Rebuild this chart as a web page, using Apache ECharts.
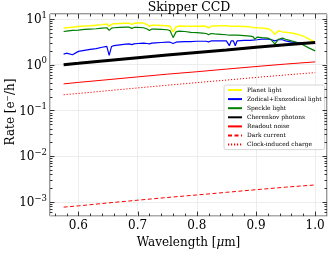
<!DOCTYPE html>
<html>
<head>
<meta charset="utf-8">
<script src="https://cdn.jsdelivr.net/npm/echarts@6/dist/echarts.min.js"></script>
<style>html,body{margin:0;padding:0;background:#fff}#c{width:330px;height:254px}</style>
</head>
<body>
<div id="c"></div>
<script>
// ---------- data ----------
const specWl = [0.575,0.58,0.59,0.60,0.61,0.62,0.63,0.64,0.648,0.652,
  0.656,0.66,0.67,0.68,0.686,0.69,0.694,0.70,0.71,0.716,
  0.72,0.724,0.73,0.74,0.75,0.755,0.76,0.765,0.77,0.78,
  0.79,0.80,0.81,0.816,0.82,0.824,0.83,0.84,0.85,0.852,
  0.855,0.858,0.862,0.865,0.868,0.87,0.88,0.89,0.895,0.898,
  0.902,0.91,0.92,0.926,0.932,0.938,0.945,0.95,0.96,0.97,
  0.98,0.99,1.0];
const planetLight = [6.3,6.4,6.6,6.8,7.0,7.1,7.3,7.5,7.7,6.9,
  7.6,7.8,7.9,8.0,8.0,7.6,8.0,8.1,8.1,7.5,
  6.9,7.3,7.3,7.2,7.1,6.9,5.2,6.7,7.0,6.9,
  6.9,6.9,7.0,6.9,6.4,6.9,7.0,7.1,7.1,7.0,
  6.9,7.0,6.9,6.8,6.9,6.9,6.8,6.7,6.5,5.9,
  6.4,6.3,6.1,5.6,4.6,5.5,5.2,5.1,4.9,4.6,
  4.2,3.6,3.05];
const zodiLight = [1.70,1.78,1.65,1.95,2.05,2.15,2.25,2.4,2.5,1.6,
  2.5,2.6,2.7,2.8,2.85,2.75,2.85,2.9,2.95,2.9,
  2.85,2.95,3.0,3.05,3.1,3.1,2.9,3.1,3.15,3.2,
  3.2,3.25,3.25,3.25,3.15,3.3,3.3,3.3,3.3,3.3,
  2.6,3.3,3.3,2.6,3.3,3.35,3.4,3.4,3.45,3.3,
  3.5,3.6,3.6,3.5,3.3,3.5,3.5,3.3,3.1,3.05,
  3.0,2.95,2.9];
const speckleLight = [5.3,5.4,5.6,5.7,5.9,6.0,6.1,6.3,6.4,5.6,
  6.3,6.4,6.5,6.6,6.6,6.2,6.5,6.5,6.4,6.0,
  5.6,6.0,6.0,5.9,5.8,5.5,3.9,5.2,5.4,5.3,
  5.1,5.0,4.9,4.8,4.5,4.8,4.7,4.6,4.5,4.5,
  4.4,4.5,4.4,4.3,4.4,4.4,4.3,4.2,4.1,3.6,
  4.0,3.9,3.8,3.5,2.8,3.6,3.8,3.6,3.3,3.05,
  2.7,2.3,2.0];

const baseWl = [0.575,0.6,0.65,0.7,0.75,0.8,0.85,0.9,0.95,1.0];
const cherenkov = [1.00,1.07,1.24,1.42,1.62,1.85,2.10,2.40,2.72,3.05];
const readoutNoise = [0.38,0.41,0.47,0.54,0.62,0.70,0.80,0.91,1.03,1.15];
const darkCurrent = [0.00077,0.00082,0.00095,0.00109,0.00125,0.00142,0.00162,0.00185,0.0021,0.00235];
const clockCharge = [0.22,0.235,0.27,0.31,0.355,0.405,0.46,0.525,0.595,0.67];

const seriesNames = ['Planet light','Zodical+Exozodical light','Speckle light','Cherenkov photons','Readout noise','Dark current','Clock-induced charge'];

const xMajorTicks = [0.6,0.7,0.8,0.9,1.0];
const xMinorTicks = [0.56,0.58,0.62,0.64,0.66,0.68,0.72,0.74,0.76,0.78,0.82,0.84,0.86,0.88,0.92,0.94,0.96,0.98];
const yMajorTicks = [0.001,0.01,0.1,1,10];
const yMinorTicks = [6e-4,7e-4,8e-4,9e-4,
  2e-3,3e-3,4e-3,5e-3,6e-3,7e-3,8e-3,9e-3,
  0.02,0.03,0.04,0.05,0.06,0.07,0.08,0.09,
  0.2,0.3,0.4,0.5,0.6,0.7,0.8,0.9,
  2,3,4,5,6,7,8,9];

// ---------- chart ----------
const FONT = 'DejaVu Serif';
const zip = (xs, ys) => xs.map((x, i) => [x, ys[i]]);

const chart = echarts.init(document.getElementById('c'), null, {renderer: 'canvas'});

function lineSeries(name, data, color, width, type) {
  return {
    name, type: 'line', data, symbol: 'none', showSymbol: false,
    lineStyle: {color, width, type: type || 'solid'},
    itemStyle: {color},
    emphasis: {disabled: true}, animation: false
  };
}

const TICK = '#333';
function tickLine(x1, y1, x2, y2) {
  return {type: 'line', shape: {x1, y1, x2, y2}, style: {stroke: TICK, lineWidth: 1}};
}

const xTickItems = xMajorTicks.map(v => [v, 1, 1]).concat(xMinorTicks.map(v => [v, 1, 0]));
const yTickItems = yMajorTicks.map(v => [0.8, v, 1]).concat(yMinorTicks.map(v => [0.8, v, 0]));

const option = {
  animation: false,
  backgroundColor: '#fff',
  grid: {left: 50, top: 14, width: 279, height: 208, show: true, borderColor: '#333', borderWidth: 1, backgroundColor: 'transparent', containLabel: false},
  xAxis: {
    type: 'value', min: 0.552, max: 1.02, splitNumber: 5,
    axisLine: {show: false}, axisTick: {show: false},
    splitLine: {show: true, lineStyle: {color: '#e8e8e8', width: 0.8}},
    axisLabel: {
      margin: 4, fontFamily: FONT, fontSize: 12, color: '#000',
      formatter: v => Math.abs(v * 10 - Math.round(v * 10)) < 1e-6 ? v.toFixed(1) : ''
    },
    name: 'Wavelength [{i|μ}m]', nameLocation: 'middle', nameGap: 16,
    nameTextStyle: {fontFamily: FONT, fontSize: 12, color: '#000', verticalAlign: 'top',
      rich: {i: {fontFamily: FONT, fontSize: 12, fontStyle: 'italic', color: '#000'}}}
  },
  yAxis: {
    type: 'log', min: 0.00049, max: 12.8, logBase: 10, splitNumber: 5,
    axisLine: {show: false}, axisTick: {show: false},
    splitLine: {show: true, lineStyle: {color: '#e8e8e8', width: 0.8}},
    axisLabel: {
      margin: 3, fontFamily: FONT, fontSize: 12, color: '#000',
      formatter: v => {
        const l = Math.log10(v), r = Math.round(l);
        if (Math.abs(l - r) > 1e-6) return '';
        return '{b|10}{s|' + (r < 0 ? '−' + (-r) : r) + '}';
      },
      rich: {
        b: {fontFamily: FONT, fontSize: 12, color: '#000', verticalAlign: 'bottom', lineHeight: 14},
        s: {fontFamily: FONT, fontSize: 8.5, color: '#000', verticalAlign: 'bottom', lineHeight: 10, padding: [0, 0, 6, 0]}
      }
    }
  },
  legend: {
    orient: 'vertical', left: 224, top: 85,
    data: seriesNames,
    itemWidth: 14, itemHeight: 7, itemGap: 3.1, itemTextGap: 4,
    padding: [2, 3, 2, 3],
    itemStyle: {opacity: 0},
    backgroundColor: 'rgba(255,255,255,0.85)', borderColor: '#ccc', borderWidth: 0.8, borderRadius: 2,
    textStyle: {fontFamily: FONT, fontSize: 5.9, color: '#000'},
    selectedMode: false
  },
  graphic: [
    {type: 'text', x: 189, y: 1, silent: true,
      style: {text: 'Skipper CCD', font: '12.5px "DejaVu Serif"', fill: '#000', textAlign: 'center', textVerticalAlign: 'top'}},
    {type: 'text', x: 11, y: 112, rotation: Math.PI / 2, silent: true,
      style: {text: 'Rate [e⁻/h]', font: '12px "DejaVu Serif"', fill: '#000', textAlign: 'center', textVerticalAlign: 'middle'}}
  ],
  series: [
    lineSeries(seriesNames[0], zip(specWl, planetLight), '#ffff00', 1.5),
    lineSeries(seriesNames[1], zip(specWl, zodiLight), '#0000ff', 1.2),
    lineSeries(seriesNames[2], zip(specWl, speckleLight), '#008000', 1.2),
    lineSeries(seriesNames[3], zip(baseWl, cherenkov), '#000000', 3),
    lineSeries(seriesNames[4], zip(baseWl, readoutNoise), '#ff0000', 1),
    lineSeries(seriesNames[5], zip(baseWl, darkCurrent), '#ff0000', 1, [4, 2.5]),
    lineSeries(seriesNames[6], zip(baseWl, clockCharge), '#ff0000', 1, [1.2, 1.8]),
    {
      type: 'custom', coordinateSystem: 'cartesian2d', silent: true, clip: false, z: 5,
      data: xTickItems, encode: {x: 0, y: 1},
      renderItem: (params, api) => {
        const cs = params.coordSys;
        const px = Math.round(api.coord([api.value(0), 1])[0]) + 0.5;
        const len = api.value(2) ? 4.5 : 2.5;
        const yb = cs.y + cs.height, yt = cs.y;
        return {type: 'group', children: [tickLine(px, yb, px, yb - len), tickLine(px, yt, px, yt + len)]};
      }
    },
    {
      type: 'custom', coordinateSystem: 'cartesian2d', silent: true, clip: false, z: 5,
      data: yTickItems, encode: {x: 0, y: 1},
      renderItem: (params, api) => {
        const cs = params.coordSys;
        const py = Math.round(api.coord([0.8, api.value(1)])[1]) + 0.5;
        const len = api.value(2) ? 4.5 : 2.5;
        const xl = cs.x, xr = cs.x + cs.width;
        return {type: 'group', children: [tickLine(xl, py, xl + len, py), tickLine(xr, py, xr - len, py)]};
      }
    }
  ]
};
chart.setOption(option);
</script>
</body>
</html>
